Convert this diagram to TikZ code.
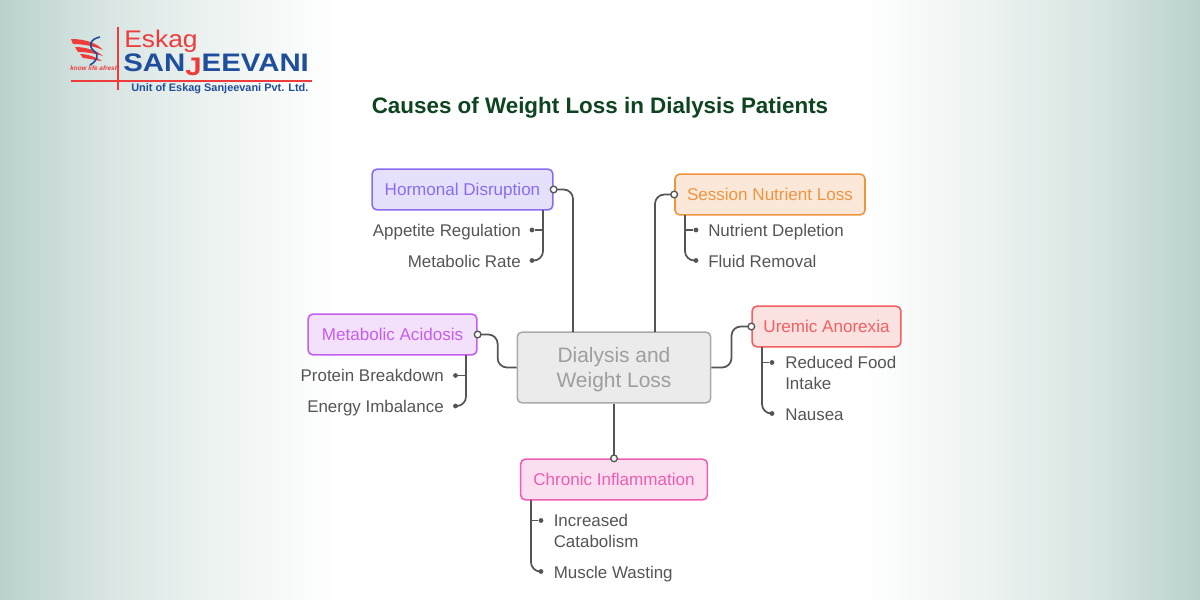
\documentclass[tikz,border=0pt]{standalone}
\usepackage{fontspec}
\setmainfont{Liberation Sans}
\usetikzlibrary{positioning}

\definecolor{edgetone}{HTML}{B9D1CD}
\definecolor{midtone}{HTML}{D6E4E1}
\definecolor{lighttone}{HTML}{EAF1EF}
\pgfdeclarehorizontalshading{pagewash}{100bp}{
  color(0bp)=(edgetone); color(25bp)=(edgetone); color(29bp)=(midtone); color(33.3bp)=(lighttone); color(39bp)=(white);
  color(61bp)=(white); color(66.7bp)=(lighttone); color(71bp)=(midtone); color(75bp)=(edgetone); color(100bp)=(edgetone)}

\definecolor{hormline}{HTML}{8B6CF0}
\definecolor{hormfill}{HTML}{E5E1FD}
\definecolor{acidline}{HTML}{C55EEF}
\definecolor{acidfill}{HTML}{F3E1FB}
\definecolor{sessline}{HTML}{EE9540}
\definecolor{sessfill}{HTML}{FBE8D9}
\definecolor{uremline}{HTML}{F0605F}
\definecolor{uremfill}{HTML}{FCE1E1}
\definecolor{chroline}{HTML}{EC5EB0}
\definecolor{chrofill}{HTML}{FBDFF0}
\definecolor{linkgray}{HTML}{555555}
\definecolor{logored}{HTML}{EE3B3B}
\definecolor{logoblue}{HTML}{1F4E9C}
\definecolor{titlegreen}{HTML}{0E4420}

\tikzset{
  topic/.style={draw=#1line, fill=#1fill, text=#1line, line width=1.2pt, rounded corners=3.5pt,
    inner sep=0pt, text height=9.3pt, text depth=0pt, font=\fontsize{12.8}{15}\selectfont},
  leaf/.style={text=linkgray, inner sep=0pt, text height=9.3pt, text depth=0pt, font=\fontsize{12.7}{15.75}\selectfont},
  leaftwo/.style={text=linkgray, inner sep=0pt, align=left, anchor=north west, font=\fontsize{12.7}{15.75}\selectfont},
  link/.style={draw=linkgray, line width=1.3pt, rounded corners=7pt},
  opendot/.style={circle, draw=linkgray, fill=white, line width=1pt, minimum size=5pt, inner sep=0pt},
  enddot/.style={circle, fill=linkgray, minimum size=3.6pt, inner sep=0pt}
}

\begin{document}
\begin{tikzpicture}[x=.75pt,y=-.75pt]
\shade[shading=pagewash] (0,0) rectangle (1200,600);
\useasboundingbox (0,0) rectangle (1200,600);

% logo
\fill[logored] (71,39) .. controls (85,39) and (97,43) .. (103,50) .. controls (94,46) and (82,44) .. (73,44) -- cycle;
\fill[logored] (75,47) .. controls (85,47) and (96,50) .. (103,56) .. controls (94,53) and (84,52) .. (78,52) -- cycle;
\fill[logored] (80,54) .. controls (87,54) and (96,57) .. (102,61) .. controls (94,60) and (86,58) .. (83,58) -- cycle;
\draw[logoblue, line width=1.2pt] (100,37) .. controls (90,39) and (88,46) .. (94,51) .. controls (100,55) and (97,61) .. (90,65);
\node[text=logored, inner sep=0pt, font=\bfseries\itshape\fontsize{4.8}{6}\selectfont] (tagline) at (94.5,68) {know life afresh};
\draw[logored, line width=1pt] (118,27) -- (118,90);
\draw[logored, line width=1pt] (71,81) -- (312,81);
\node[text=logored, inner sep=0pt, anchor=base west, font=\fontsize{18}{20}\selectfont] (eskag) at (124,47) {\scalebox{1.1}[1]{Eskag}};
\node[text=logoblue, inner sep=0pt, anchor=base west, font=\bfseries\fontsize{19}{22}\selectfont] (sanjeevani) at (123,71)
  {\scalebox{1.16}[1]{SAN\raisebox{-3pt}{\textcolor{logored}{J}}EEVANI}};
\node[text=logoblue, inner sep=0pt, anchor=base west, font=\bfseries\fontsize{8.2}{9}\selectfont] (unit) at (131,91) {Unit of Eskag Sanjeevani Pvt. Ltd.};

% title
\node[text=titlegreen, inner sep=0pt, font=\bfseries\fontsize{16.8}{20}\selectfont] (title) at (600,108) {Causes of Weight Loss in Dialysis Patients};

% centre
\node[draw=black!33, fill=black!8, text=black!38, line width=1.2pt, rounded corners=3.5pt, inner sep=0pt,
  minimum width=145pt, minimum height=53pt, align=center, text depth=0pt, font=\fontsize{15.7}{18.75}\selectfont] (center) at (614,367.5) {Dialysis and\\Weight Loss};

% topics
\node[topic=horm, minimum width=135.5pt, minimum height=30.5pt] (hormonal) at (462.5,189.5) {Hormonal Disruption};
\node[topic=acid, minimum width=126.5pt, minimum height=30.5pt] (acidosis) at (392.5,334.5) {Metabolic Acidosis};
\node[topic=sess, minimum width=142.5pt, minimum height=30.5pt] (session) at (770,194.5) {Session Nutrient Loss};
\node[topic=urem, minimum width=111.5pt, minimum height=30.5pt] (uremic) at (826.5,326.5) {Uremic Anorexia};
\node[topic=chro, minimum width=140pt, minimum height=30.5pt] (chronic) at (614,479.5) {Chronic Inflammation};

% leaves
\node[leaf, anchor=east] (appetite) at (521,230.5) {Appetite Regulation};
\node[leaf, anchor=east] (metrate) at (521,261) {Metabolic Rate};
\node[leaf, anchor=east] (protein) at (444,375.5) {Protein Breakdown};
\node[leaf, anchor=east] (energy) at (444,406.5) {Energy Imbalance};
\node[leaf, anchor=west] (nutrient) at (708,230.5) {Nutrient Depletion};
\node[leaf, anchor=west] (fluid) at (708,261) {Fluid Removal};
\node[leaftwo] (reduced) at (785,356) {Reduced Food\\Intake};
\node[leaf, anchor=west] (nausea) at (785,414) {Nausea};
\node[leaftwo] (increased) at (553.5,514) {Increased\\Catabolism};
\node[leaf, anchor=west] (wasting) at (553.5,572) {Muscle Wasting};

% end points of the branches
\node[enddot] (d-appetite) at (532,230) {};
\node[enddot] (d-metrate) at (532,260.5) {};
\node[enddot] (d-protein) at (455.5,375.5) {};
\node[enddot] (d-energy) at (455.5,406) {};
\node[enddot] (d-nutrient) at (696,230) {};
\node[enddot] (d-fluid) at (696,260.5) {};
\node[enddot] (d-reduced) at (772,362.5) {};
\node[enddot] (d-nausea) at (772,413.5) {};
\node[enddot] (d-increased) at (541,520.5) {};
\node[enddot] (d-wasting) at (541,571.5) {};

\coordinate (t-hormonal) at (543,210);
\coordinate (t-acidosis) at (466,355);
\coordinate (t-session) at (685,215);
\coordinate (t-uremic) at (762,347);
\coordinate (t-chronic) at (531,500);
\coordinate (c-left) at (573,332);
\coordinate (c-right) at (655,332);

% trunks
\draw[link] (t-hormonal) |- (d-metrate);
\draw[link] (d-appetite -| t-hormonal) -- (d-appetite);
\draw[link] (t-acidosis) |- (d-energy);
\draw[link] (d-protein -| t-acidosis) -- (d-protein);
\draw[link] (t-session) |- (d-fluid);
\draw[link] (d-nutrient -| t-session) -- (d-nutrient);
\draw[link] (t-uremic) |- (d-nausea);
\draw[link] (d-reduced -| t-uremic) -- (d-reduced);
\draw[link] (t-chronic) |- (d-wasting);
\draw[link] (d-increased -| t-chronic) -- (d-increased);

% links to the centre
\draw[link] (hormonal.east) -| (c-left);
\draw[link] (session.west) -| (c-right);
\draw[link] (acidosis.east) -- ++(20,0) |- (center.west);
\draw[link] (center.east) -- ++(20,0) |- (uremic.west);
\draw[link] (center.south) -- (chronic.north);

\node[opendot] (o-hormonal) at (hormonal.east) {};
\node[opendot] (o-session) at (session.west) {};
\node[opendot] (o-acidosis) at (acidosis.east) {};
\node[opendot] (o-uremic) at (uremic.west) {};
\node[opendot] (o-chronic) at (chronic.north) {};
\end{tikzpicture}
\end{document}
